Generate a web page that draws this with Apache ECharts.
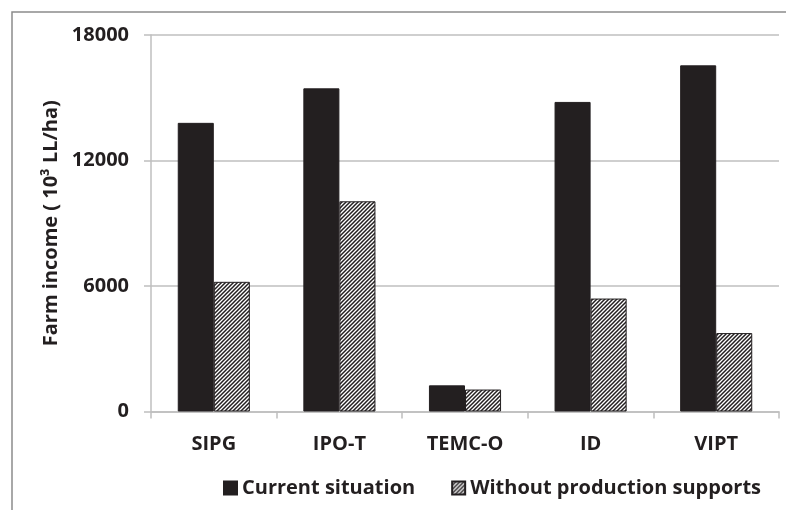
<!DOCTYPE html>
<html>
<head>
<meta charset="utf-8">
<script src="https://cdn.jsdelivr.net/npm/echarts@6/dist/echarts.min.js"></script>
<style>
html,body{margin:0;padding:0;background:#fff;}
#chart{width:786px;height:510px;}
</style>
</head>
<body>
<div id="chart"></div>
<script>
const categories = ['SIPG', 'IPO-T', 'TEMC-O', 'ID', 'VIPT'];
const currentSituation = [13800, 15450, 1250, 14800, 16550];
const withoutSupports = [6200, 10050, 1050, 5400, 3750];
const yTicks = [0, 6000, 12000, 18000];

function hatch() {
  const c = document.createElement('canvas');
  c.width = 4; c.height = 4;
  const g = c.getContext('2d');
  g.fillStyle = '#fff';
  g.fillRect(0, 0, 4, 4);
  g.strokeStyle = '#231f20';
  g.lineWidth = 1.5;
  g.beginPath();
  g.moveTo(-1, 5); g.lineTo(5, -1);
  g.moveTo(-1, 1); g.lineTo(1, -1);
  g.moveTo(3, 5); g.lineTo(5, 3);
  g.stroke();
  return c;
}

const font = '"Open Sans"';
const txt = '#231f20';
const chart = echarts.init(document.getElementById('chart'));
chart.setOption({
  animation: false,
  backgroundColor: '#fff',
  graphic: [{
    type: 'rect',
    shape: {x: 12, y: 12, width: 800, height: 520},
    style: {fill: 'none', stroke: '#8c8c8c', lineWidth: 1.5},
    silent: true
  }],
  grid: {left: 151, top: 35, right: 7, bottom: 98.5},
  legend: {
    left: 218, top: 473,
    itemWidth: 13, itemHeight: 13, itemGap: 36,
    icon: 'rect',
    textStyle: {fontFamily: font, fontWeight: 'bold', fontSize: 20, color: txt},
    data: ['Current situation', 'Without production supports']
  },
  xAxis: {
    type: 'category',
    data: categories,
    axisLine: {lineStyle: {color: '#bfbfbf', width: 1.5}},
    axisTick: {show: true, length: 7, lineStyle: {color: '#bfbfbf', width: 1.5}},
    axisLabel: {fontFamily: font, fontWeight: 'bold', fontSize: 20, color: txt, margin: 23}
  },
  yAxis: {
    type: 'value',
    min: yTicks[0], max: yTicks[yTicks.length - 1], interval: 6000,
    name: 'Farm income ( 10³ LL/ha)',
    nameLocation: 'middle',
    nameGap: 86,
    nameTextStyle: {fontFamily: font, fontWeight: 'bold', fontSize: 20, color: txt},
    axisLine: {show: true, lineStyle: {color: '#bfbfbf', width: 1.5}},
    axisTick: {show: true, length: 7, lineStyle: {color: '#bfbfbf', width: 1.5}},
    splitLine: {lineStyle: {color: '#bfbfbf', width: 1.5}},
    axisLabel: {fontFamily: font, fontWeight: 'bold', fontSize: 20, color: txt, margin: 22,
      formatter: function (v) { return String(v); }}
  },
  series: [
    {
      name: 'Current situation', type: 'bar', data: currentSituation,
      barGap: '0%', barCategoryGap: '42.6%',
      itemStyle: {color: '#231f20', borderColor: '#231f20', borderWidth: 1}
    },
    {
      name: 'Without production supports', type: 'bar', data: withoutSupports,
      itemStyle: {color: {image: hatch(), repeat: 'repeat'}, borderColor: '#231f20', borderWidth: 1}
    }
  ]
});
</script>
</body>
</html>
